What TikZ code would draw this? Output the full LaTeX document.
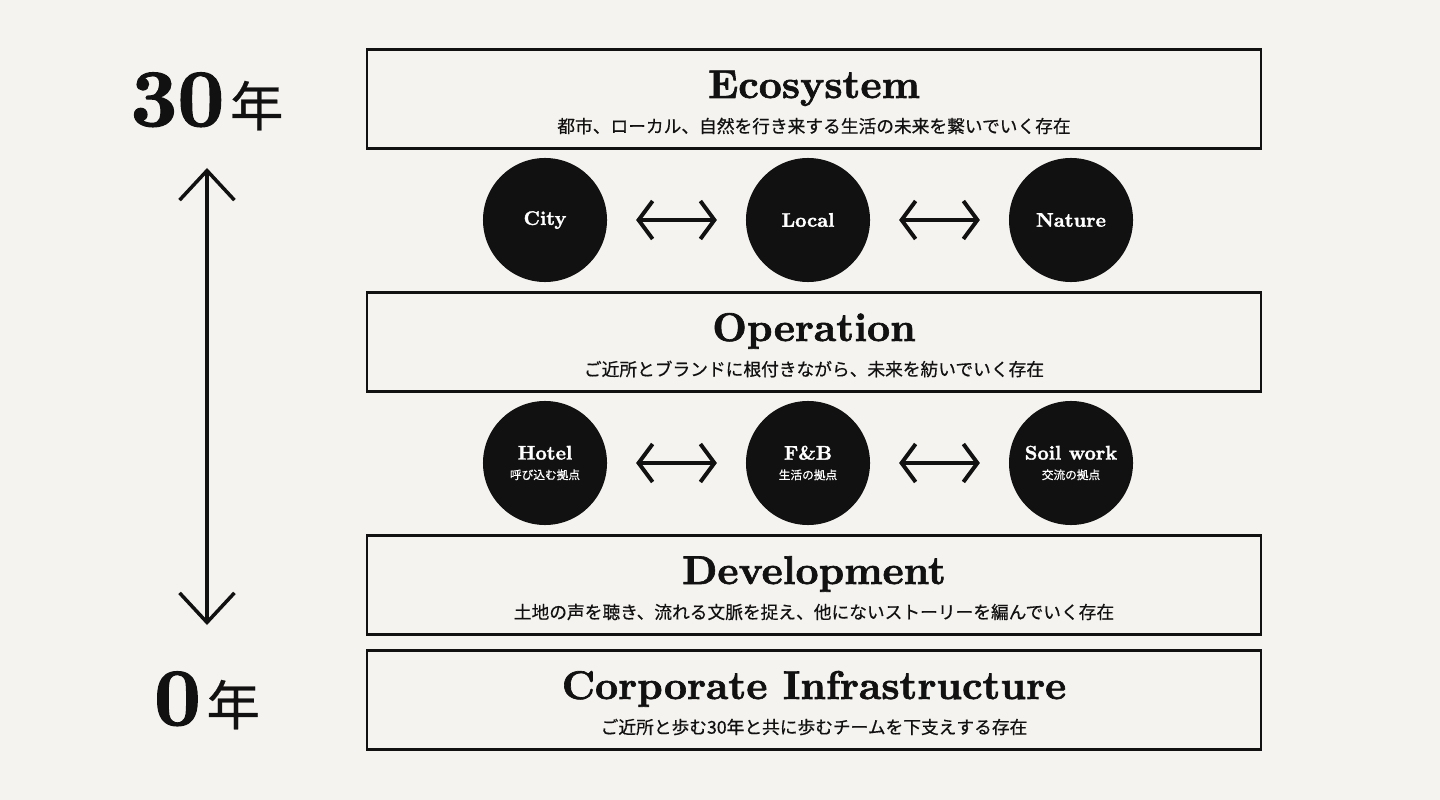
\documentclass[tikz,border=0pt]{standalone}
\usepackage{fontspec}
\newfontfamily\jp[FakeBold=0.5]{Noto Sans CJK JP}
\newfontfamily\hd[FakeBold=1.6]{lmroman10-bold.otf}
\usetikzlibrary{arrows.meta}
\definecolor{paper}{HTML}{F5F3EF}
\definecolor{ink}{HTML}{111111}

\begin{document}
\begin{tikzpicture}[x=0.025cm,y=-0.025cm,
 tier/.style={draw=ink,line width=1.6pt,minimum width=22.35cm,minimum height=2.48cm,inner sep=0pt},
 ttl/.style={anchor=base,text=ink,font=\hd\fontsize{28.5}{32}\selectfont},
 sub/.style={text=ink,font=\jp\fontsize{12.6}{15}\selectfont},
 dot/.style={circle,fill=ink,minimum size=3.1cm,inner sep=0pt,text=white,align=center,font=\hd\fontsize{14}{17}\selectfont},
 link/.style={{Straight Barb[length=10pt,width=27pt]}-{Straight Barb[length=10pt,width=27pt]},line width=2.8pt,draw=ink,shorten <=0.72cm,shorten >=0.72cm},
 year/.style={anchor=base,text=ink,inner sep=0pt}]
\fill[paper] (0,0) rectangle (1440,800);
\foreach \n/\y/\t/\s in {eco/49/Ecosystem/都市、ローカル、自然を行き来する生活の未来を繋いでいく存在,
 ops/292/Operation/ご近所とブランドに根付きながら、未来を紡いでいく存在,
 dev/535/Development/土地の声を聴き、流れる文脈を捉え、他にないストーリーを編んでいく存在,
 corp/650/Corporate Infrastructure/ご近所と歩む30年と共に歩むチームを下支えする存在} {
 \node[tier] (\n) at (814,\y+50) {};
 \node[ttl] (\n-t) at (814,\y+49) {\t};
 \node[sub] (\n-s) at (814,\y+77) {\s};
}
\foreach \n/\x/\t in {city/545/City,local/808/Local,nature/1071/Nature}
 \node[dot] (\n) at (\x,220) {\t};
\foreach \n/\x/\t/\s in {hotel/545/Hotel/呼び込む拠点,fnb/808/F\&B/生活の拠点,soil/1071/Soil work/交流の拠点}
 \node[dot] (\n) at (\x,463) {\t\\[-3pt]{\jp\fontsize{8.3}{10}\selectfont \s}};
\draw[link] (city) -- (local);
\draw[link] (local) -- (nature);
\draw[link] (hotel) -- (fnb);
\draw[link] (fnb) -- (soil);
\node[year] (y30) at (207,126) {{\hd\fontsize{58}{60}\selectfont 30}\hspace{4pt}{\jp\fontsize{38}{40}\selectfont 年}};
\node[year] (y0) at (207,725) {{\hd\fontsize{58}{60}\selectfont 0}\hspace{4pt}{\jp\fontsize{38}{40}\selectfont 年}};
\coordinate (up) at (207,168);
\coordinate (down) at (207,625);
\draw[ink,line width=2.5pt,{Straight Barb[length=21pt,width=39pt]}-{Straight Barb[length=21pt,width=39pt]}] (up) -- (down);
\end{tikzpicture}
\end{document}
